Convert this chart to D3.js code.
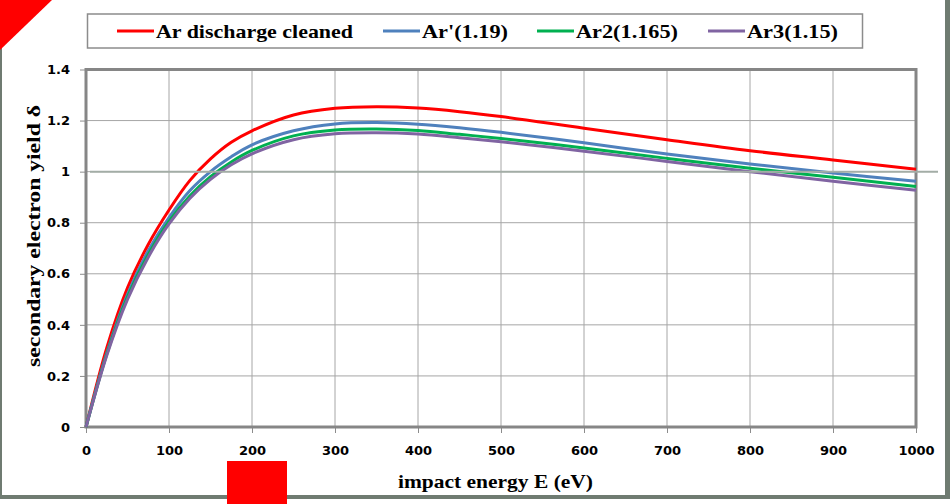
<!DOCTYPE html>
<html>
<head>
<meta charset="utf-8">
<script src="https://cdn.jsdelivr.net/npm/d3@7"></script>
<style>
  body { margin: 0; background: #fff; }
  svg { display: block; }
</style>
</head>
<body>
<div id="chart"></div>
<script>
// energy grid (eV) and yield curves
const energy = [0, 25, 50, 75, 100, 125, 150, 175, 200, 250, 300, 350, 400, 450, 500, 600, 700, 800, 900, 1000];
const arCleaned = [0, 0.31, 0.545, 0.715, 0.85, 0.965, 1.05, 1.115, 1.16, 1.222, 1.248, 1.254, 1.249, 1.235, 1.216, 1.17, 1.125, 1.082, 1.046, 1.009];
const arPrime   = [0, 0.29, 0.52, 0.69, 0.82, 0.925, 1.0, 1.058, 1.105, 1.16, 1.187, 1.192, 1.186, 1.172, 1.154, 1.113, 1.069, 1.03, 0.995, 0.962];
const ar2       = [0, 0.285, 0.51, 0.675, 0.805, 0.905, 0.98, 1.038, 1.083, 1.14, 1.163, 1.167, 1.161, 1.146, 1.13, 1.093, 1.052, 1.013, 0.978, 0.942];
const ar3       = [0, 0.28, 0.5, 0.665, 0.795, 0.895, 0.97, 1.027, 1.07, 1.125, 1.148, 1.152, 1.147, 1.133, 1.117, 1.08, 1.04, 1.0, 0.962, 0.927];

const seriesNames = ["Ar discharge cleaned", "Ar'(1.19)", "Ar2(1.165)", "Ar3(1.15)"];
const seriesColors = ["#ff0000", "#4f81bd", "#00b050", "#8064a2"];
const xTicks = [0, 100, 200, 300, 400, 500, 600, 700, 800, 900, 1000];
const yTicks = [0, 0.2, 0.4, 0.6, 0.8, 1, 1.2, 1.4];

const W = 951, H = 504;
const svg = d3.select("#chart").append("svg").attr("width", W).attr("height", H);

// outer frame
svg.append("line").attr("x1", 1).attr("x2", 1).attr("y1", 0).attr("y2", 498)
  .attr("stroke", "#6f7b71").attr("stroke-width", 2);
svg.append("line").attr("x1", 0).attr("x2", 950).attr("y1", 497).attr("y2", 497)
  .attr("stroke", "#6f7b71").attr("stroke-width", 4);
svg.append("line").attr("x1", 947.5).attr("x2", 947.5).attr("y1", 0).attr("y2", 499)
  .attr("stroke", "#6f7b71").attr("stroke-width", 5);

const x = d3.scaleLinear().domain([0, 1000]).range([86, 916]);
const y = d3.scaleLinear().domain([0, 1.4]).range([427, 69.5]);

// grid
svg.append("g").selectAll("line").data(xTicks.slice(1, -1)).enter().append("line")
  .attr("x1", d => x(d)).attr("x2", d => x(d)).attr("y1", y(1.4)).attr("y2", y(0))
  .attr("stroke", "#a6a6a6").attr("stroke-width", 1);
svg.append("g").selectAll("line").data(yTicks.slice(1, -1)).enter().append("line")
  .attr("x1", x(0)).attr("x2", x(1000)).attr("y1", d => y(d)).attr("y2", d => y(d))
  .attr("stroke", "#a6a6a6").attr("stroke-width", 1);

// axes (ticks + labels)
const axisFont = "'DejaVu Sans', Verdana, sans-serif";
const xAxis = svg.append("g").attr("transform", `translate(0,${y(0)})`)
  .call(d3.axisBottom(x).tickValues(xTicks).tickSize(6).tickPadding(13).tickFormat(d3.format("d")));
const yAxis = svg.append("g").attr("transform", `translate(${x(0)},0)`)
  .call(d3.axisLeft(y).tickValues(yTicks).tickSize(6).tickPadding(10).tickFormat(d => String(+d.toFixed(1))));
[xAxis, yAxis].forEach(a => {
  a.select(".domain").remove();
  a.selectAll("line").attr("stroke", "#8c8c8c");
  a.selectAll("text").attr("font-family", axisFont).attr("font-weight", "bold")
    .attr("font-size", 13).attr("fill", "#000");
});

// plot border
svg.append("rect").attr("x", x(0)).attr("y", y(1.4))
  .attr("width", x(1000) - x(0)).attr("height", y(0) - y(1.4))
  .attr("fill", "none").attr("stroke", "#868686").attr("stroke-width", 3);

// curves
const line = d3.line().x((d, i) => x(energy[i])).y(d => y(d)).curve(d3.curveCatmullRom.alpha(0.5));
[arCleaned, arPrime, ar2, ar3].forEach((s, i) => {
  svg.append("path").datum(s).attr("d", line)
    .attr("fill", "none").attr("stroke", seriesColors[i]).attr("stroke-width", 3)
    .attr("stroke-linejoin", "round");
});

// reference line at yield = 1
svg.append("line").attr("x1", 90).attr("x2", 938).attr("y1", y(1)).attr("y2", y(1))
  .attr("stroke", "#a3ada6").attr("stroke-width", 2);

// axis titles (text in the picture is stretched, so widths are fixed)
const serif = "'Liberation Serif', 'Times New Roman', serif";
svg.append("text").attr("x", 398).attr("y", 488)
  .attr("font-family", serif).attr("font-weight", "bold").attr("font-size", 19)
  .attr("textLength", 195).attr("lengthAdjust", "spacingAndGlyphs")
  .text("impact energy E (eV)");
svg.append("text").attr("transform", "translate(40,367) rotate(-90)")
  .attr("font-family", serif).attr("font-weight", "bold").attr("font-size", 19)
  .attr("textLength", 262).attr("lengthAdjust", "spacingAndGlyphs")
  .text("secondary electron yield δ");

// legend
svg.append("rect").attr("x", 87.5).attr("y", 14).attr("width", 775).attr("height", 34)
  .attr("fill", "#fff").attr("stroke", "#8c8c8c").attr("stroke-width", 1.5);
const legendX = [117, 383, 537, 708];
const legendW = [197, 86, 102, 91];
seriesNames.forEach((n, i) => {
  svg.append("line").attr("x1", legendX[i]).attr("x2", legendX[i] + 37).attr("y1", 31).attr("y2", 31)
    .attr("stroke", seriesColors[i]).attr("stroke-width", 3);
  svg.append("text").attr("x", legendX[i] + 39).attr("y", 37.5)
    .attr("font-family", serif).attr("font-weight", "bold").attr("font-size", 19)
    .attr("textLength", legendW[i]).attr("lengthAdjust", "spacingAndGlyphs")
    .text(n);
});

// red marks
svg.append("path").attr("d", "M0,0L52,0L0,50Z").attr("fill", "#ff0000");
svg.append("rect").attr("x", 227).attr("y", 461).attr("width", 60).attr("height", 43).attr("fill", "#ff0000");
</script>
</body>
</html>
